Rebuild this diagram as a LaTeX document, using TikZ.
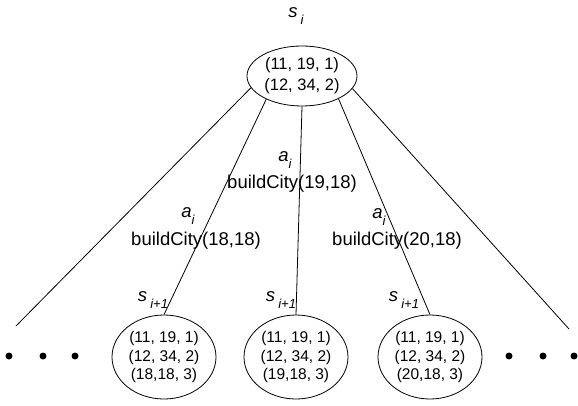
\documentclass[tikz,border=0pt]{standalone}
\usepackage{fontspec}
\setmainfont{Liberation Sans}
\usetikzlibrary{shapes.geometric}
\newcommand{\lowidx}[1]{\raisebox{-0.4em}{\fontsize{13}{13}\selectfont\itshape #1}}
\begin{document}
\begin{tikzpicture}[x=1pt, y=-1pt, line width=0.8pt,
  state/.style={draw, ellipse, inner sep=0pt, align=center, font=\fontsize{15.5}{18.5}\selectfont},
  top state/.style={state, minimum width=110pt, minimum height=60pt, font=\fontsize{16.5}{21}\selectfont},
  child state/.style={state, minimum width=104pt, minimum height=84pt},
  lbl/.style={inner sep=0pt, font=\fontsize{18.5}{22}\selectfont},
  dot/.style={circle, fill, inner sep=0pt, minimum size=7pt}]
\useasboundingbox (0,0) rectangle (578,406);
\node[top state] (si) at (302,76) {(11, 19, 1)\\(12, 34, 2)};
\node[lbl] (si label) at (296,16) {\textit{s}\,\lowidx{i}};
\node[child state] (b1) at (164,357) {(11, 19, 1)\\(12, 34, 2)\\(18,18, 3)};
\node[child state] (b2) at (296,357) {(11, 19, 1)\\(12, 34, 2)\\(19,18, 3)};
\node[child state] (b3) at (430,357) {(11, 19, 1)\\(12, 34, 2)\\(20,18, 3)};
\node[lbl] (b1 label) at (153,300) {\textit{s}\,\lowidx{i+1}};
\node[lbl] (b2 label) at (281,300) {\textit{s}\,\lowidx{i+1}};
\node[lbl] (b3 label) at (404,300) {\textit{s}\,\lowidx{i+1}};
\coordinate (l end) at (16,326);
\coordinate (r end) at (569,329);
% branches
\draw (si.193) -- (l end);
\draw (si.213) -- (b1.north);
\draw (si.south) -- (b2.north);
\draw (si.328) -- (b3.north);
\draw (si.346) -- (r end);
% actions
\node[lbl] (a1) at (188,216) {\textit{a}\lowidx{i}};
\node[lbl] (act1) at (196,241) {buildCity(18,18)};
\node[lbl] (a2) at (285,160) {\textit{a}\lowidx{i}};
\node[lbl] (act2) at (292,184) {buildCity(19,18)};
\node[lbl] (a3) at (379,217) {\textit{a}\lowidx{i}};
\node[lbl] (act3) at (397,241) {buildCity(20,18)};
% more branches
\node[dot] (l1) at (9,356) {};
\node[dot] (l2) at (43,356) {};
\node[dot] (l3) at (75,356) {};
\node[dot] (r1) at (509,356) {};
\node[dot] (r2) at (543,356) {};
\node[dot] (r3) at (574,356) {};
\end{tikzpicture}
\end{document}
